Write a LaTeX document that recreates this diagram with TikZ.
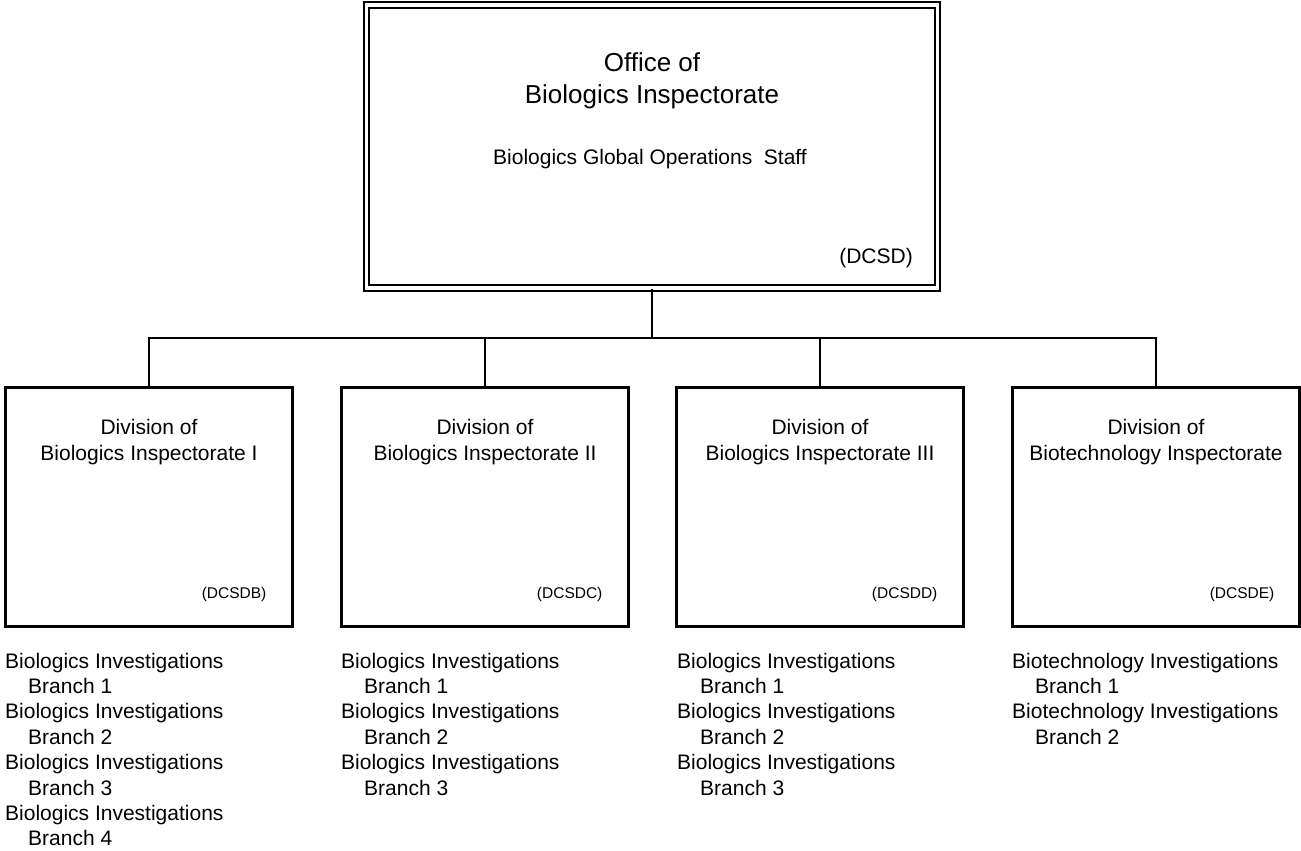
\documentclass[tikz,border=0pt]{standalone}
\usepackage{fontspec}
\setmainfont{Liberation Sans}
\usetikzlibrary{calc}
\begin{document}
\begin{tikzpicture}[x=1pt,y=-1pt,
  divbox/.style={draw,line width=2.2pt,minimum width=287pt,minimum height=239pt,inner sep=0pt},
  topbox/.style={draw,line width=2pt,double=white,double distance=3.6pt,minimum width=571pt,minimum height=283pt,inner sep=0pt},
  conn/.style={line width=2.2pt},
  divtext/.style={font=\fontsize{21}{26}\selectfont,align=center,inner sep=0pt},
  code/.style={font=\fontsize{15.5}{18}\selectfont,inner sep=0pt,anchor=base east},
  listtext/.style={font=\fontsize{21}{25.4}\selectfont,align=left,inner sep=0pt,anchor=base west}
]
\useasboundingbox (0,0) rectangle (1301,851);

\node[topbox] (top) at (652,146.5) {};
\node[font=\fontsize{26}{32}\selectfont,align=center,inner sep=0pt,anchor=base] (toptitle) at (652,103) {Office of\\Biologics Inspectorate};
\node[font=\fontsize{21}{25}\selectfont,inner sep=0pt,anchor=base] (topsub) at (650,164) {Biologics Global Operations\ \ Staff};
\node[font=\fontsize{21}{25}\selectfont,inner sep=0pt,anchor=base east] (topcode) at (913,263) {(DCSD)};

\node[divbox] (b1) at (149,507) {};
\node[divbox] (b2) at (485,507) {};
\node[divbox] (b3) at (820,507) {};
\node[divbox] (b4) at (1156,507) {};

\coordinate (j) at (652,338);
\draw[conn] (top.south) -- (j);
\draw[conn] (b1.north) |- (j);
\draw[conn] (b2.north) |- (j);
\draw[conn] (b3.north) |- (j);
\draw[conn] (b4.north) |- (j);

\node[divtext,anchor=base] (t1) at ($(b1.north)+(0,74)$) {Division of\\Biologics Inspectorate I};
\node[divtext,anchor=base] (t2) at ($(b2.north)+(0,74)$) {Division of\\Biologics Inspectorate II};
\node[divtext,anchor=base] (t3) at ($(b3.north)+(0,74)$) {Division of\\Biologics Inspectorate III};
\node[divtext,anchor=base] (t4) at ($(b4.north)+(0,74)$) {Division of\\Biotechnology Inspectorate};

\node[code] (c1) at ($(b1.north east)+(-27,212)$) {(DCSDB)};
\node[code] (c2) at ($(b2.north east)+(-27,212)$) {(DCSDC)};
\node[code] (c3) at ($(b3.north east)+(-27,212)$) {(DCSDD)};
\node[code] (c4) at ($(b4.north east)+(-26,212)$) {(DCSDE)};

\node[listtext] (l1) at (5,845.8) {Biologics Investigations\\\hspace*{23pt}Branch 1\\Biologics Investigations\\\hspace*{23pt}Branch 2\\Biologics Investigations\\\hspace*{23pt}Branch 3\\Biologics Investigations\\\hspace*{23pt}Branch 4};
\node[listtext] (l2) at (341,795) {Biologics Investigations\\\hspace*{23pt}Branch 1\\Biologics Investigations\\\hspace*{23pt}Branch 2\\Biologics Investigations\\\hspace*{23pt}Branch 3};
\node[listtext] (l3) at (677,795) {Biologics Investigations\\\hspace*{23pt}Branch 1\\Biologics Investigations\\\hspace*{23pt}Branch 2\\Biologics Investigations\\\hspace*{23pt}Branch 3};
\node[listtext] (l4) at (1012,744.2) {Biotechnology Investigations\\\hspace*{23pt}Branch 1\\Biotechnology Investigations\\\hspace*{23pt}Branch 2};
\end{tikzpicture}
\end{document}
